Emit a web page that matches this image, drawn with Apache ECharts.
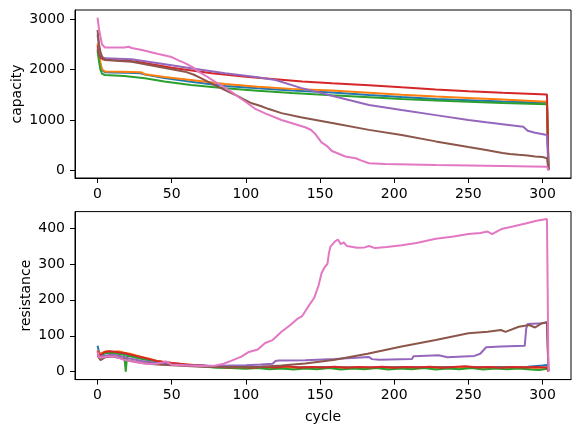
<!DOCTYPE html>
<html>
<head>
<meta charset="utf-8">
<script src="https://cdn.jsdelivr.net/npm/echarts/dist/echarts.min.js"></script>
<style>
html,body{margin:0;padding:0;background:#fff;}
#chart{width:580px;height:432px;}
</style>
</head>
<body>
<div id="chart"></div>
<script>
// ---- tick labels ----
const cycleTicks = [0, 50, 100, 150, 200, 250, 300];
const capTicks = [0, 1000, 2000, 3000];
const resTicks = [0, 100, 200, 300, 400];

// ---- axis titles ----
const xTitle = 'cycle';
const capTitle = 'capacity';
const resTitle = 'resistance';

// ---- series colours (matplotlib tab10) ----
const colors = ['#1f77b4', '#ff7f0e', '#2ca02c', '#d62728', '#9467bd', '#8c564b', '#e377c2'];

// ---- capacity, [cycle, value] ----
const capBlue = [[0,2420],[1,2250],[2,2080],[3,1990],[5,1950],[10,1945],[20,1940],[29,1930],[32,1905],[45,1835],[63,1763],[86,1677],[108,1631],[131,1590],[158,1550],[183,1500],[205,1460],[228,1420],[250,1395],[273,1370],[303,1346],[304,18]];
const capOrange = [[0,2520],[1,2320],[2,2130],[3,2010],[5,1965],[15,1960],[29,1950],[32,1910],[45,1855],[63,1796],[86,1717],[108,1664],[131,1620],[158,1590],[183,1545],[205,1505],[228,1470],[250,1440],[273,1410],[303,1366],[304,15]];
const capGreen = [[0,2376],[1,2160],[2,1994],[3,1920],[5,1895],[18,1875],[32,1829],[45,1765],[63,1697],[86,1631],[108,1585],[131,1540],[158,1492],[183,1455],[205,1420],[228,1390],[250,1365],[273,1340],[303,1314],[304,10]];
const capRed = [[0,2480],[1,2330],[2,2240],[4,2200],[10,2190],[20,2175],[27,2158],[50,2040],[77,1928],[100,1860],[120,1810],[138,1765],[158,1731],[183,1690],[205,1650],[228,1610],[250,1575],[273,1545],[303,1510],[304,25]];
const capPurple = [[0,2700],[1,2450],[2,2300],[3,2250],[5,2225],[23,2205],[41,2126],[63,2027],[86,1928],[108,1849],[120,1796],[137,1640],[160,1470],[183,1300],[205,1200],[228,1100],[250,1004],[262,960],[273,920],[287,870],[290,790],[295,750],[303,707],[304,10]];
const capBrown = [[0,2786],[1,2500],[2,2350],[3,2260],[5,2192],[15,2170],[23,2158],[41,2060],[50,2010],[59,1961],[65,1900],[70,1829],[76,1740],[81,1664],[87,1580],[93,1499],[98,1420],[104,1334],[110,1280],[115,1225],[124,1140],[137,1060],[160,935],[183,808],[205,707],[228,580],[250,467],[262,410],[273,350],[278,330],[284,314],[290,300],[295,281],[300,270],[303,248],[304,20]];
const capPink = [[0,3030],[1,2800],[2,2650],[3,2500],[5,2440],[18,2440],[21,2455],[23,2430],[30,2390],[41,2310],[50,2250],[55,2180],[59,2130],[64,2050],[68,1961],[74,1860],[79,1763],[85,1660],[90,1565],[95,1460],[100,1360],[106,1230],[113,1136],[124,1004],[135,905],[140,860],[144,805],[147,720],[151,560],[155,480],[158,390],[163,330],[167,280],[174,246],[178,200],[183,147],[194,134],[228,112],[273,93],[303,80],[304,8]];

// ---- resistance, [cycle, value] ----
const resBlue = [[0,72],[1,55],[2,45],[3,48],[5,52],[8,53],[12,52],[16,50],[20,47],[25,42],[30,37],[35,33],[40,29],[45,26],[50,23],[55,21],[60,19],[65,18],[70,17],[75,16],[80,15],[100,14],[120,13],[140,13],[160,13],[180,12],[200,13],[220,13],[240,13],[260,13],[280,13],[290,14],[296,16],[300,17],[303,19],[304,1]];
const resOrange = [[0,60],[1,50],[2,46],[3,52],[5,56],[8,57],[10,55],[14,57],[18,53],[22,50],[26,45],[30,40],[35,36],[40,30],[45,27],[50,24],[55,22],[60,20],[65,18],[70,17],[75,15],[80,14],[90,13],[100,12],[110,13],[120,11],[135,12],[150,11],[165,12],[180,11],[195,12],[210,11],[225,12],[240,11],[255,12],[270,11],[285,12],[300,11],[303,12],[304,1]];
const resGreen = [[0,55],[1,46],[2,42],[3,48],[5,52],[10,52],[15,49],[18,47],[19,0],[20,45],[25,40],[30,35],[40,28],[50,22],[60,18],[70,15],[80,11],[90,10],[100,8],[108,10],[116,7],[124,9],[132,6],[140,9],[148,7],[156,10],[164,6],[172,9],[180,7],[188,10],[196,6],[204,9],[212,7],[220,10],[228,6],[236,9],[244,7],[252,10],[260,6],[268,9],[276,7],[284,9],[292,6],[298,5],[303,8],[304,1]];
const resRed = [[0,58],[1,50],[2,44],[3,50],[5,55],[8,57],[10,56],[14,54],[18,52],[22,48],[26,44],[30,40],[35,35],[40,30],[45,27],[50,24],[60,20],[70,17],[80,14],[88,12],[96,13],[104,11],[112,14],[120,12],[128,15],[136,11],[144,13],[152,12],[160,14],[168,11],[176,13],[184,12],[192,14],[200,11],[208,13],[216,12],[224,14],[232,11],[240,13],[248,15],[256,12],[264,13],[272,11],[280,13],[288,12],[296,13],[303,12],[304,1]];
const resPurple = [[0,50],[1,42],[2,38],[3,42],[5,45],[10,47],[15,44],[20,38],[25,34],[30,30],[40,24],[50,20],[60,18],[70,17],[80,16],[90,17],[100,18],[110,20],[118,22],[120,30],[122,31],[140,32],[160,35],[183,41],[185,35],[190,33],[212,35],[213,43],[230,46],[236,40],[254,44],[258,50],[262,68],[272,70],[288,72],[289,120],[290,133],[300,135],[303,137],[304,2]];
const resBrown = [[0,45],[1,38],[2,32],[3,36],[5,40],[10,42],[15,38],[20,32],[25,28],[30,24],[40,20],[50,18],[60,16],[70,14],[80,13],[90,13],[100,13],[110,14],[124,17],[140,23],[160,33],[182,50],[205,70],[228,88],[250,107],[263,111],[272,116],[275,111],[284,125],[291,130],[295,123],[299,134],[303,138],[304,2]];
const resPink = [[0,56],[1,40],[2,36],[4,40],[6,42],[12,42],[18,33],[25,27],[34,21.5],[40,22],[44,26],[46,29],[48,24],[50,19],[60,17],[70,16],[79,16.5],[85,22],[90,30],[97,42],[102,55],[108,62],[113,80],[118,88],[124,111],[130,130],[135,148],[138,155],[142,181],[146,205],[149,240],[151,274],[153,290],[155,300],[156,330],[157,348],[160,362],[162,368],[164,355],[166,360],[168,350],[171,348],[175,345],[180,346],[183,350],[187,344],[195,347],[205,352],[215,358],[228,370],[240,376],[250,383],[258,386],[263,390],[266,383],[270,392],[273,398],[280,404],[290,414],[296,420],[303,425],[304,0]];

const capSeries = [capBlue, capOrange, capGreen, capRed, capPurple, capBrown, capPink];
const resSeries = [resBlue, resOrange, resGreen, resRed, resPurple, resBrown, resPink];

const FONT = 'DejaVu Sans';
const FS = 14;
const plain = v => String(v);

function xAxisCfg(gridIndex, showName) {
  return {
    type: 'value', gridIndex: gridIndex, min: -15.2, max: 319.2,
    axisLine: { show: true, onZero: false, lineStyle: { color: '#000', width: 1 } },
    axisTick: { show: true, length: 5, customValues: cycleTicks, lineStyle: { color: '#000', width: 1 } },
    axisLabel: { customValues: cycleTicks, formatter: plain, color: '#000', fontSize: FS, fontFamily: FONT, margin: 9 },
    splitLine: { show: false },
    name: showName ? xTitle : '', nameLocation: 'middle', nameGap: 31, nameMoveOverlap: false,
    nameTextStyle: { color: '#000', fontSize: FS, fontFamily: FONT }
  };
}
function yAxisCfg(gridIndex, min, max, ticks, title, gap) {
  return {
    type: 'value', gridIndex: gridIndex, min: min, max: max,
    axisLine: { show: true, onZero: false, lineStyle: { color: '#000', width: 1 } },
    axisTick: { show: true, length: 5, customValues: ticks, lineStyle: { color: '#000', width: 1 } },
    axisLabel: { customValues: ticks, formatter: plain, color: '#000', fontSize: FS, fontFamily: FONT, margin: 10 },
    splitLine: { show: false },
    name: title, nameLocation: 'middle', nameGap: gap, nameMoveOverlap: false,
    nameTextStyle: { color: '#000', fontSize: FS, fontFamily: FONT }
  };
}

const series = [];
capSeries.forEach((d, i) => series.push({
  type: 'line', xAxisIndex: 0, yAxisIndex: 0, data: d, showSymbol: false, symbol: 'none',
  lineStyle: { color: colors[i], width: 2 }, itemStyle: { color: colors[i] }, z: 2 + i
}));
resSeries.forEach((d, i) => series.push({
  type: 'line', xAxisIndex: 1, yAxisIndex: 1, data: d, showSymbol: false, symbol: 'none',
  lineStyle: { color: colors[i], width: 2 }, itemStyle: { color: colors[i] }, z: 2 + i
}));

const chart = echarts.init(document.getElementById('chart'), null, { renderer: 'canvas' });
chart.setOption({
  backgroundColor: '#fff',
  animation: false,
  grid: [
    { left: 75, top: 10, width: 496, height: 168, outerBoundsMode: 'none', containLabel: false, show: true, borderColor: '#000', borderWidth: 1, backgroundColor: 'transparent' },
    { left: 75, top: 211.6, width: 496, height: 168, outerBoundsMode: 'none', containLabel: false, show: true, borderColor: '#000', borderWidth: 1, backgroundColor: 'transparent' }
  ],
  xAxis: [xAxisCfg(0, false), xAxisCfg(1, true)],
  yAxis: [
    yAxisCfg(0, -145, 3182, capTicks, capTitle, 51),
    yAxisCfg(1, -22, 445.6, resTicks, resTitle, 42)
  ],
  series: series
});
</script>
</body>
</html>
